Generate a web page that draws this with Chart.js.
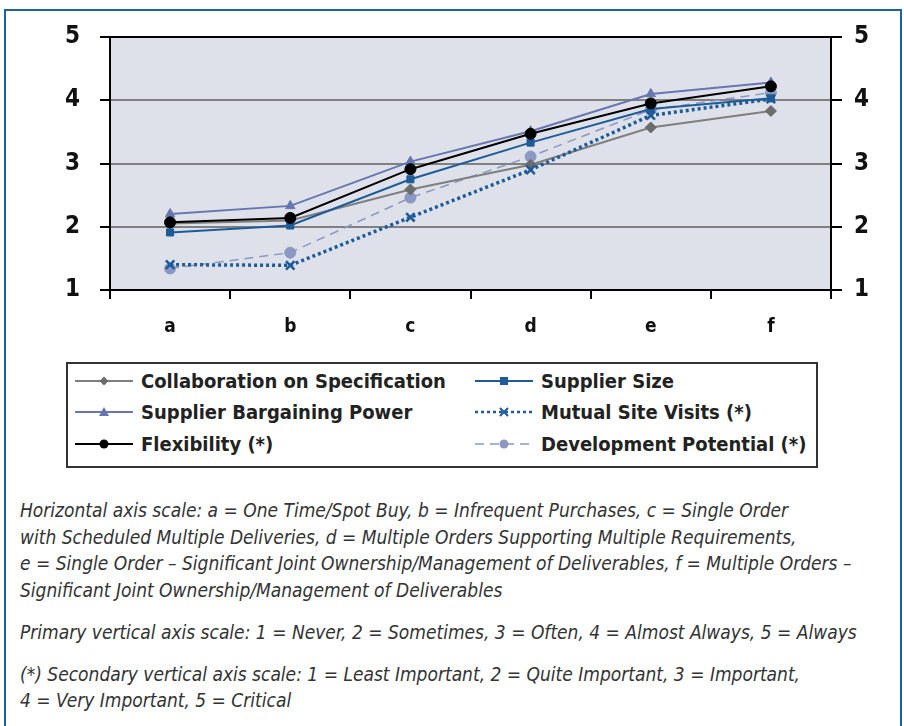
<!DOCTYPE html>
<html>
<head>
<meta charset="utf-8">
<script src="https://cdn.jsdelivr.net/npm/chart.js@4.4.1/dist/chart.umd.min.js"></script>
<style>
  body { margin: 0; background: #fff; width: 904px; height: 726px; position: relative; overflow: hidden;
         font-family: "Liberation Sans Narrow", "DejaVu Sans Condensed", sans-serif; color: #222; }
  #frame { position: absolute; left: 4px; top: 9px; width: 894px; height: 800px; border: 2px solid #1f62a0; }
  #chart { position: absolute; left: 0; top: 0; }
  #legend { position: absolute; left: 66px; top: 362px; width: 748px; height: 101px; border: 2px solid #333;
            display: grid; grid-template-columns: 400px 348px; grid-auto-rows: 31.5px; padding-top: 1px; box-sizing: content-box; }
  .item { display: flex; align-items: center; font-weight: bold; font-size: 20px; color: #222; }
  .item svg { margin-left: 7px; margin-right: 8px; }
  #notes { position: absolute; left: 20px; top: 497px; width: 880px; font-style: italic; font-size: 19px; line-height: 26.5px; color: #333; }
  #notes p { margin: 0 0 15.5px 0; white-space: nowrap; }
</style>
</head>
<body>
<div id="frame"></div>
<canvas id="chart" width="904" height="350"></canvas>
<div id="legend"></div>
<div id="notes">
  <p>Horizontal axis scale: a = One Time/Spot Buy, b = Infrequent Purchases, c = Single Order<br>with Scheduled Multiple Deliveries, d = Multiple Orders Supporting Multiple Requirements,<br>e = Single Order – Significant Joint Ownership/Management of Deliverables, f = Multiple Orders –<br>Significant Joint Ownership/Management of Deliverables</p>
  <p>Primary vertical axis scale: 1 = Never, 2 = Sometimes, 3 = Often, 4 = Almost Always, 5 = Always</p>
  <p>(*) Secondary vertical axis scale: 1 = Least Important, 2 = Quite Important, 3 = Important,<br>4 = Very Important, 5 = Critical</p>
</div>
<script>
const categories = ['a', 'b', 'c', 'd', 'e', 'f'];
const yTicks = [1, 2, 3, 4, 5];

const collaboration = [2.05, 2.10, 2.59, 2.98, 3.57, 3.83];
const supplierSize = [1.91, 2.02, 2.75, 3.33, 3.86, 4.03];
const bargainingPower = [2.20, 2.33, 3.03, 3.51, 4.10, 4.28];
const mutualVisits = [1.40, 1.39, 2.15, 2.90, 3.76, 4.02];
const flexibility = [2.07, 2.14, 2.91, 3.47, 3.95, 4.22];
const devPotential = [1.34, 1.59, 2.46, 3.11, 3.85, 4.12];

const series = [
    { label: 'Collaboration on Specification', data: collaboration, color: '#7f7f7f', marker: '#6b6b6b', style: 'rectRot', dash: [], width: 2, axis: 'y', order: 5 },
    { label: 'Supplier Size', data: supplierSize, color: '#1d5c98', marker: '#1d5c98', style: 'rect', dash: [], width: 2, axis: 'y', order: 3 },
    { label: 'Supplier Bargaining Power', data: bargainingPower, color: '#6677b0', marker: '#6677b0', style: 'triangle', dash: [], width: 2, axis: 'y', order: 2 },
    { label: 'Mutual Site Visits (*)', data: mutualVisits, color: '#1d5c98', marker: '#1d5c98', style: 'crossRot', dash: [3, 3], width: 3.5, axis: 'y2', order: 4 },
    { label: 'Flexibility (*)', data: flexibility, color: '#000000', marker: '#000000', style: 'circle', dash: [], width: 2, axis: 'y2', order: 1 },
    { label: 'Development Potential (*)', data: devPotential, color: '#8a98c2', marker: '#8a98c2', style: 'circle', dash: [9, 6], width: 1.5, axis: 'y2', order: 6 }
];

const datasets = series.map(s => ({
    label: s.label,
    data: s.data,
    yAxisID: s.axis,
    order: s.order,
    borderColor: s.color,
    borderWidth: s.width,
    borderDash: s.dash,
    pointStyle: s.style,
    pointRadius: s.style === 'rect' ? 5 : (s.style === 'crossRot' ? 6 : 5.5),
    pointBackgroundColor: s.marker,
    pointBorderColor: s.marker,
    pointBorderWidth: s.style === 'crossRot' ? 2.5 : 1,
    tension: 0,
    fill: false
}));

const plotBg = {
    id: 'plotBg',
    beforeDraw(chart) {
        const a = chart.chartArea;
        const c = chart.ctx;
        c.save();
        c.fillStyle = '#dfe1ea';
        c.fillRect(a.left, a.top, a.right - a.left, a.bottom - a.top);
        c.restore();
    }
};

const tickFont = { family: '"Liberation Sans Narrow", "DejaVu Sans Condensed", sans-serif', size: 24, weight: 'bold' };

new Chart(document.getElementById('chart'), {
    type: 'line',
    data: { labels: categories, datasets: datasets },
    options: {
        responsive: false,
        animation: false,
        layout: { padding: { top: 37, left: 0, right: 0, bottom: 0 } },
        plugins: { legend: { display: false }, tooltip: { enabled: false } },
        scales: {
            x: {
                offset: true,
                grid: { offset: true, drawOnChartArea: false, tickLength: 9, tickColor: '#000', lineWidth: 2 },
                border: { color: '#000', width: 2 },
                ticks: { color: '#111', font: { family: tickFont.family, size: 19, weight: 'bold' }, padding: 17 },
                afterFit(s) { s.height = 60; }
            },
            y: {
                min: 1, max: 5,
                afterBuildTicks(s) { s.ticks = yTicks.map(v => ({ value: v })); },
                grid: {
                    color: ctx => (ctx.tick.value === 5 || ctx.tick.value === 1) ? '#000' : '#808080',
                    lineWidth: 2, tickLength: 10, tickColor: '#000'
                },
                border: { color: '#000', width: 2 },
                ticks: { color: '#111', font: tickFont, padding: 20 },
                afterFit(s) { s.width = 110; }
            },
            y2: {
                position: 'right',
                min: 1, max: 5,
                afterBuildTicks(s) { s.ticks = yTicks.map(v => ({ value: v })); },
                grid: { drawOnChartArea: false, lineWidth: 2, tickLength: 11, tickColor: '#000' },
                border: { color: '#000', width: 2 },
                ticks: { color: '#111', font: tickFont, padding: 12 },
                afterFit(s) { s.width = 73; }
            }
        }
    },
    plugins: [plotBg]
});

// legend with line + marker samples
const legendBox = document.getElementById('legend');
function markerSvg(s) {
    const cx = 29, cy = 10, r = 4.5;
    const fill = s.marker;
    if (s.style === 'rectRot') return `<polygon points="${cx},${cy - r} ${cx + r},${cy} ${cx},${cy + r} ${cx - r},${cy}" fill="${fill}"/>`;
    if (s.style === 'rect') return `<rect x="${cx - 4}" y="${cy - 4}" width="8" height="8" fill="${fill}"/>`;
    if (s.style === 'triangle') return `<polygon points="${cx},${cy - 5} ${cx + 5},${cy + 4} ${cx - 5},${cy + 4}" fill="${fill}"/>`;
    if (s.style === 'crossRot') return `<path d="M${cx - 4} ${cy - 4} L${cx + 4} ${cy + 4} M${cx + 4} ${cy - 4} L${cx - 4} ${cy + 4}" stroke="${fill}" stroke-width="2"/>`;
    return `<circle cx="${cx}" cy="${cy}" r="${r}" fill="${fill}"/>`;
}
series.forEach(s => {
    const div = document.createElement('div');
    div.className = 'item';
    const dash = s.dash.length ? `stroke-dasharray="${s.dash.join(' ')}"` : '';
    div.innerHTML = `<svg width="58" height="20"><line x1="0" y1="10" x2="58" y2="10" stroke="${s.color}" stroke-width="${Math.min(s.width, 2.5)}" ${dash}/>${markerSvg(s)}</svg><span>${s.label}</span>`;
    legendBox.appendChild(div);
});
</script>
</body>
</html>
